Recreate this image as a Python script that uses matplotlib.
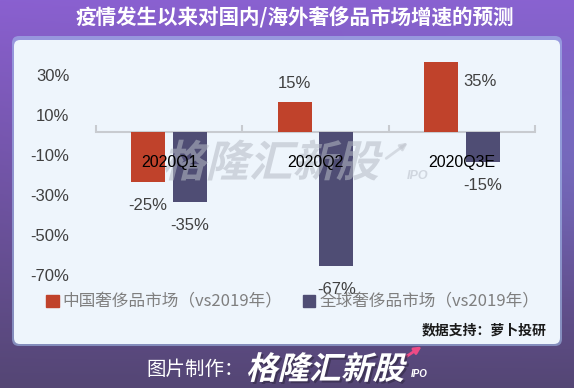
import numpy as np
import matplotlib.pyplot as plt
from matplotlib.patches import FancyBboxPatch, Patch, PathPatch
from matplotlib.textpath import TextPath
from matplotlib.font_manager import FontProperties
from matplotlib.transforms import Affine2D, IdentityTransform

quarters = ['2020Q1', '2020Q2', '2020Q3E']
china = [-25, 15, 35]
world = [-35, -67, -15]
series_names = ['中国奢侈品市场（vs2019年）', '全球奢侈品市场（vs2019年）']
yticks = [30, 10, -10, -30, -50, -70]

RED = '#c0422b'
BLUE = '#4f4d74'
CJK = ['Noto Sans CJK SC', 'DejaVu Sans']

plt.rcParams['font.family'] = ['Liberation Sans', 'Noto Sans CJK SC', 'DejaVu Sans']

W, H = 574, 388
fig = plt.figure(figsize=(W / 100, H / 100), dpi=100)
px, py = 1 / W, 1 / H


def skew_text(s, x0, x1, cy, color, alpha=1.0):
    # heavy slanted text scaled to span x0..x1 pixels, centred on cy (pixels from top)
    tp = TextPath((0, 0), s, size=40,
                  prop=FontProperties(family='Noto Sans CJK SC', weight='black'))
    path = Affine2D().skew_deg(14, 0).transform_path(tp)
    ext = path.get_extents()
    k = (x1 - x0) / ext.width
    tr = (Affine2D().translate(-ext.x0, -(ext.y0 + ext.y1) / 2)
          .scale(k).translate(x0, H - cy))
    return PathPatch(tr.transform_path(path), fc=color, ec='none', alpha=alpha,
                     transform=IdentityTransform())


# background gradient + panel
bg = fig.add_axes([0, 0, 1, 1], zorder=-10)
bg.set_xlim(0, 1)
bg.set_ylim(0, 1)
bg.axis('off')
t = np.linspace(0, 1, 200)[:, None]
s = np.linspace(0, 1, 200)[None, :]
top = np.array([138, 96, 208]) / 255
bot = np.array([84, 70, 116]) / 255
blue = np.array([120, 140, 220]) / 255
grad = top[None, None, :] * (1 - t[..., None]) + bot[None, None, :] * t[..., None]
mix = (0.35 * s * np.exp(-((t - 0.4) / 0.3) ** 2))[..., None]
grad = grad * (1 - mix) + blue[None, None, :] * mix
bg.imshow(grad, extent=[0, 1, 0, 1], aspect='auto', origin='upper')

glow = FancyBboxPatch((12 * px, 42 * py), 550 * px, 310 * py,
                      boxstyle='round,pad=0,rounding_size=0.012',
                      mutation_aspect=W / H, fc='#a8c6f0', ec='none', alpha=0.55)
bg.add_patch(glow)
panel = FancyBboxPatch((14 * px, 44 * py), 546 * px, 304 * py,
                       boxstyle='round,pad=0,rounding_size=0.0105',
                       mutation_aspect=W / H, fc='#eef5fc', ec='none')
bg.add_patch(panel)

fig.text(294.5 * px, 1 - 18 * py, '疫情发生以来对国内/海外奢侈品市场增速的预测',
         family=CJK, fontsize=14.8, fontweight='bold', color='white',
         ha='center', va='center')

# chart
ax = fig.add_axes([96 * px, 1 - 282 * py, 439 * px, 226 * py])
ax.patch.set_alpha(0)
x = np.arange(len(quarters))
for vals, off, color in [(china, -0.143, RED), (world, 0.143, BLUE)]:
    bars = ax.bar(x + off, vals, width=0.232, color=color, zorder=2)
    for b, v in zip(bars, vals):
        cx = b.get_x() + b.get_width() / 2
        if v > 30:
            ax.annotate(f'{v}%', (b.get_x() + b.get_width(), v), xytext=(5, -20),
                        textcoords='offset pixels', ha='left', va='center',
                        fontsize=12, color='#404040')
        elif v > 0:
            ax.annotate(f'{v}%', (cx, v), xytext=(0, 19), textcoords='offset pixels',
                        ha='center', va='center', fontsize=12, color='#404040')
        else:
            ax.annotate(f'{v}%', (cx, v), xytext=(0, -23), textcoords='offset pixels',
                        ha='center', va='center', fontsize=12, color='#404040')

for i, q in enumerate(quarters):
    ax.annotate(q, (i, 0), xytext=(0, -30), textcoords='offset pixels',
                ha='center', va='center', fontsize=11.5, color='black', zorder=6)

ax.set_xlim(-0.5, 2.5)
ax.set_ylim(-75, 38)
ax.set_yticks(yticks)
ax.set_yticklabels([f'{v}%' for v in yticks])
ax.set_xticks([-0.5, 0.5, 1.5, 2.5])
ax.tick_params(axis='x', direction='in', length=5, width=1.5, color='#c8cbd0',
               labelbottom=False)
ax.tick_params(axis='y', length=0, pad=19, labelsize=12, labelcolor='#404040')
for label in ax.get_yticklabels():
    label.set_transform(label.get_transform() + Affine2D().translate(0, -3))
for side in ['top', 'right', 'left']:
    ax.spines[side].set_visible(False)
ax.spines['bottom'].set_position(('data', 0))
ax.spines['bottom'].set_color('#c8cbd0')
ax.spines['bottom'].set_linewidth(1.5)
ax.spines['bottom'].set_zorder(1)

# watermark
wm = skew_text('格隆汇新股', 165, 383, 160, '#b4bac4', alpha=0.55)
wm.set_zorder(4)
ax.add_artist(wm)
ax.text(418 * px, 1 - 176 * py, 'IPO', transform=fig.transFigure, fontsize=9,
        fontweight='bold', style='italic', color='#b8bec8', alpha=0.55,
        ha='center', va='center', zorder=4)
ax.annotate('', xy=(410 * px, 1 - 141 * py), xytext=(384 * px, 1 - 160 * py),
            xycoords='figure fraction', textcoords='figure fraction',
            arrowprops=dict(arrowstyle='-|>', color='#c4c9d2', lw=2, alpha=0.6))

handles = [Patch(color=RED), Patch(color=BLUE)]
leg = ax.legend(handles, series_names, loc='center left',
                bbox_to_anchor=(46 * px, 1 - 302 * py), bbox_transform=fig.transFigure,
                ncol=2, frameon=False, handlelength=0.75, handleheight=0.75,
                handletextpad=0.25, columnspacing=1.2, borderaxespad=0, borderpad=0,
                prop={'family': CJK, 'size': 12})
for txt in leg.get_texts():
    txt.set_color('#7f7f7f')

fig.text(547 * px, 1 - 330 * py, '数据支持：萝卜投研', family=CJK, fontsize=10,
         fontweight='bold', color='#1a1a1a', ha='right', va='center')

# footer
fig.text(146 * px, 1 - 369 * py, '图片制作：', family=CJK, fontsize=14,
         color='white', ha='left', va='center')
shadow = skew_text('格隆汇新股', 250, 409, 369, '#3a3050', alpha=0.8)
fig.add_artist(shadow)
fig.add_artist(skew_text('格隆汇新股', 248, 407, 367, 'white'))
fig.text(411 * px, 1 - 374 * py, 'IPO', fontsize=7, fontweight='bold',
         style='italic', color='white', ha='left', va='center')
bg.annotate('', xy=(424 * px, 1 - 345 * py), xytext=(404 * px, 1 - 358 * py),
            arrowprops=dict(arrowstyle='-|>', color='#ee4b86', lw=2))

fig.savefig('out.png', dpi=100)
